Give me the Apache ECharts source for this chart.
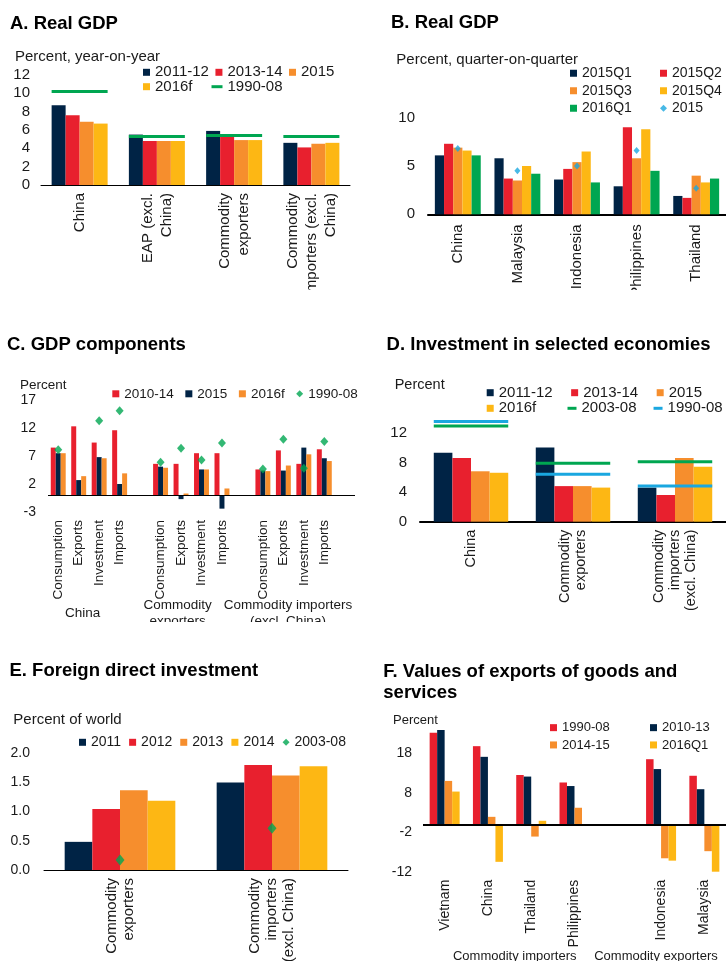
<!DOCTYPE html>
<html>
<head>
<meta charset="utf-8">
<script src="https://cdn.jsdelivr.net/npm/echarts/dist/echarts.min.js"></script>
<style>
html,body{margin:0;padding:0;background:#fff;width:726px;height:961px;overflow:hidden}
.p{position:absolute}
</style>
</head>
<body>
<div id="A" class="p" style="left:0;top:0;width:363px;height:290px"></div>
<div id="B" class="p" style="left:363px;top:0;width:363px;height:290px"></div>
<div id="C" class="p" style="left:0;top:322px;width:363px;height:300px"></div>
<div id="D" class="p" style="left:363px;top:322px;width:363px;height:300px"></div>
<div id="E" class="p" style="left:0;top:640px;width:363px;height:321px"></div>
<div id="F" class="p" style="left:363px;top:640px;width:363px;height:321px"></div>
<script>
// ---------------- DATA ----------------
// A. Real GDP (percent, year-on-year)
const aCategories = ['China', 'EAP (excl.\nChina)', 'Commodity\nexporters', 'Commodity\nimporters (excl.\nChina)'];
const a2011_12 = [8.7, 5.5, 5.9, 4.6];
const a2013_14 = [7.6, 4.8, 5.3, 4.1];
const a2015    = [6.9, 4.8, 4.9, 4.5];
const a2016f   = [6.7, 4.8, 4.9, 4.6];
const a1990_08 = [10.2, 5.3, 5.4, 5.3];

// B. Real GDP (percent, quarter-on-quarter)
const bCategories = ['China', 'Malaysia', 'Indonesia', 'Philippines', 'Thailand'];
const b2015Q1 = [6.1, 5.8, 3.6, 2.9, 1.9];
const b2015Q2 = [7.3, 3.7, 4.7, 9.0, 1.7];
const b2015Q3 = [6.9, 3.5, 5.4, 5.8, 4.0];
const b2015Q4 = [6.6, 5.0, 6.5, 8.8, 3.3];
const b2016Q1 = [6.1, 4.2, 3.3, 4.5, 3.7];
const b2015   = [6.8, 4.5, 5.0, 6.6, 2.7];

// C. GDP components (percent)
const cGroups = ['China', 'Commodity\nexporters', 'Commodity importers\n(excl. China)'];
const cComponents = ['Consumption', 'Exports', 'Investment', 'Imports'];
const c2010_14 = [8.5, 12.3, 9.4, 11.6,   5.6, 5.6, 7.5, 7.5,   4.6, 8.0, 5.6, 8.2];
const c2015    = [7.5, 2.7, 6.8, 2.0,     5.1, -0.7, 4.6, -2.4, 4.4, 4.4, 8.5, 6.6];
const c2016f   = [7.5, 3.4, 6.6, 3.9,     4.9, 0.3, 4.6, 1.2,   4.3, 5.3, 7.3, 6.1];
const c1990_08 = [8.1, 17.3, 13.3, 15.1,  5.9, 8.4, 6.3, 9.3,   4.7, 10.0, 4.8, 9.6];

// D. Investment in selected economies (percent)
const dCategories = ['China', 'Commodity\nexporters', 'Commodity\nimporters\n(excl. China)'];
const d2011_12 = [9.3, 10.0, 4.6];
const d2013_14 = [8.6, 4.8, 3.6];
const d2015    = [6.8, 4.8, 8.6];
const d2016f   = [6.6, 4.6, 7.4];
const d2003_08 = [12.9, 7.9, 8.1];
const d1990_08 = [13.5, 6.4, 4.8];

// E. Foreign direct investment (percent of world)
const eCategories = ['Commodity\nexporters', 'Commodity\nimporters\n(excl. China)'];
const e2011 = [0.48, 1.49];
const e2012 = [1.04, 1.79];
const e2013 = [1.36, 1.61];
const e2014 = [1.18, 1.77];
const e2003_08 = [0.17, 0.71];

// F. Values of exports of goods and services (percent)
const fCategories = ['Vietnam', 'China', 'Thailand', 'Philippines', '', 'Indonesia', 'Malaysia'];
const f1990_08 = [23.2, 19.8, 12.5, 10.6, null, 16.5, 12.3];
const f2010_13 = [23.9, 17.1, 12.1, 9.7, null, 14.0, 8.9];
const f2014_15 = [11.0, 1.9, -3.1, 4.2, null, -8.6, -6.8];
const f2016Q1  = [8.3, -9.5, 0.9, null, null, -9.2, -12.3];
const fGroupLabels = ['Commodity importers', 'Commodity exporters'];

// ---------------- STYLE ----------------
const FONT = '"Liberation Sans", Arial, Helvetica, sans-serif';
const TXT = '#1a1a1a';
const NAVY = '#002345', RED = '#E8202E', ORANGE = '#F68E2D', YELLOW = '#FDB714', GREEN = '#00A651', CYAN = '#1AA7E0';

function titleOpt(text, left, top, lh) {
  return { text, left, top, padding: 0,
    textStyle: { fontFamily: FONT, fontSize: 18.5, fontWeight: 'bold', color: '#000', lineHeight: lh || 20 } };
}
function txt(text, x, y, size, align, lh) {
  return { type: 'text', x, y, silent: true,
    style: { text, fill: TXT, fontSize: size, fontFamily: FONT, align: align || 'left', verticalAlign: 'middle', lineHeight: lh || size } };
}
function lg(names, left, top, o) {
  return { data: names, left, top, padding: 0, orient: o.orient || 'horizontal',
    itemWidth: o.w || 7, itemHeight: o.h || 7, itemGap: o.gap || 0, icon: o.icon || 'rect',
    selectedMode: false,
    textStyle: { fontFamily: FONT, fontSize: o.size, color: TXT, lineHeight: o.lh || o.size } };
}
function bar(name, data, color, gap, extra) {
  return Object.assign({ type: 'bar', name, data, barGap: 0, barCategoryGap: gap,
    itemStyle: { color }, emphasis: { disabled: true }, silent: true }, extra || {});
}
function groupLine(name, values, color, frac, width) {
  return { type: 'custom', name, itemStyle: { color }, silent: true, z: 5,
    data: values.map((v, i) => [i, v]), encode: { x: 0, y: 1 },
    renderItem: function (params, api) {
      const p = api.coord([api.value(0), api.value(1)]);
      const w = api.size([1, 0])[0] * frac;
      return { type: 'line', shape: { x1: p[0] - w / 2, y1: p[1], x2: p[0] + w / 2, y2: p[1] },
        style: { stroke: color, lineWidth: width } };
    } };
}
function marks(name, values, color, size) {
  return { type: 'scatter', name, symbol: 'diamond', symbolSize: size, itemStyle: { color }, z: 6, silent: true,
    data: values.map((v, i) => [i, v]) };
}
function catAxis(cats, o) {
  return { type: 'category', data: cats,
    axisLine: { show: o.line !== false, onZero: false, lineStyle: { color: '#000', width: o.lw || 1 } },
    axisTick: { show: false }, splitLine: { show: false },
    axisLabel: { interval: 0, rotate: 90, margin: o.margin, fontSize: o.size, lineHeight: o.lh || o.size + 2,
      color: TXT, fontFamily: FONT, formatter: o.fmt } };
}
function valAxis(min, max, interval, o) {
  return { type: 'value', min, max, interval,
    axisLine: { show: false }, axisTick: { show: false }, splitLine: { show: false },
    axisLabel: { fontSize: o.size, color: TXT, fontFamily: FONT, margin: o.margin,
      showMaxLabel: o.showMax !== false, formatter: o.fmt } };
}
function grid(left, right, top, bottom) {
  return { left, right, top, bottom, containLabel: false, outerBoundsMode: 'none' };
}
const zeroLine = (w) => ({ silent: true, symbol: 'none', label: { show: false },
  lineStyle: { color: '#000', width: w, type: 'solid' }, emphasis: { disabled: true }, data: [{ yAxis: 0 }] });

function init(id, option) {
  const ch = echarts.init(document.getElementById(id));
  option.animation = false;
  option.textStyle = { fontFamily: FONT, color: TXT };
  ch.setOption(option);
}

// ---------------- A ----------------
(function () {
  const gap = '27.5%';
  init('A', {
    title: titleOpt('A. Real GDP', 10, 14),
    graphic: [txt('Percent, year-on-year', 15, 57, 15)],
    legend: [
      lg(['2011-12', '2013-14', '2015'], 143, 64.8, { size: 15, gap: 6.5 }),
      lg(['2016f'], 143, 79.2, { size: 15 }),
      lg(['1990-08'], 211.5, 79.2, { size: 15, w: 11, h: 3 })
    ],
    grid: grid(41, 13, 75, 105),
    xAxis: catAxis(aCategories, { margin: 8, size: 15, lh: 19, lw: 1 }),
    yAxis: valAxis(0, 12, 2, { size: 15, margin: 11 }),
    series: [
      bar('2011-12', a2011_12, NAVY, gap), bar('2013-14', a2013_14, RED, gap),
      bar('2015', a2015, ORANGE, gap), bar('2016f', a2016f, YELLOW, gap),
      groupLine('1990-08', a1990_08, GREEN, 0.725, 3)
    ]
  });
})();

// ---------------- B ----------------
(function () {
  const gap = '23%';
  init('B', {
    title: titleOpt('B. Real GDP', 28, 13),
    graphic: [txt('Percent, quarter-on-quarter', 33.3, 59.5, 15)],
    legend: [
      lg(['2015Q1', '2015Q3', '2016Q1'], 207, 64.5, { size: 14, lh: 17.5, orient: 'vertical' }),
      lg(['2015Q2', '2015Q4', { name: '2015', icon: 'diamond' }], 297, 64.5, { size: 14, lh: 17.5, orient: 'vertical' })
    ],
    grid: grid(65, 0, 117.7, 75.7),
    xAxis: catAxis(bCategories, { margin: 10, size: 15, lw: 2 }),
    yAxis: valAxis(0, 10, 5, { size: 15, margin: 13 }),
    series: [
      bar('2015Q1', b2015Q1, NAVY, gap), bar('2015Q2', b2015Q2, RED, gap),
      bar('2015Q3', b2015Q3, ORANGE, gap), bar('2015Q4', b2015Q4, YELLOW, gap),
      bar('2016Q1', b2016Q1, GREEN, gap),
      marks('2015', b2015, CYAN, [6, 7])
    ]
  });
})();

// ---------------- C ----------------
(function () {
  const gap = '27%';
  // build 15 slots: 4 components per group followed by a blank slot
  const cats = [], idx = [];
  cGroups.forEach((g, gi) => {
    cComponents.forEach((c, ci) => { cats.push(gi + '|' + c); idx.push(gi * 4 + ci); });
    cats.push(gi + '|'); idx.push(-1);
  });
  const spread = (arr) => idx.map(k => (k < 0 ? null : arr[k]));
  const dm = spread(c1990_08);
  init('C', {
    title: titleOpt('C. GDP components', 7, 13),
    graphic: [
      txt('Percent', 20, 63, 13.5),
      txt(cGroups[0], 82.7, 291, 13.5, 'center', 16),
      txt(cGroups[1], 177.7, 291, 13.5, 'center', 16),
      txt(cGroups[2], 288, 291, 13.5, 'center', 16)
    ],
    legend: [
      lg(['2010-14', '2015', '2016f', { name: '1990-08', icon: 'diamond' }], 112.3, 64.8, { size: 13.5, gap: 11.5, w: 7, h: 7 })
    ],
    grid: grid(48, 8, 78, 110),
    xAxis: catAxis(cats, { margin: 8, size: 13.5, line: false, fmt: v => v.split('|')[1] }),
    yAxis: valAxis(-3, 17, 5, { size: 14, margin: 12 }),
    series: [
      bar('2010-14', spread(c2010_14), RED, gap, { markLine: zeroLine(1) }),
      bar('2015', spread(c2015), NAVY, gap),
      bar('2016f', spread(c2016f), ORANGE, gap),
      { type: 'scatter', name: '1990-08', symbol: 'diamond', symbolSize: [8, 9], itemStyle: { color: GREEN }, z: 6, silent: true,
        data: dm.map((v, i) => [i, v]).filter(d => d[1] != null) }
    ]
  });
})();

// ---------------- D ----------------
(function () {
  const gap = '27%';
  init('D', {
    title: titleOpt('D. Investment in selected economies', 23.6, 13),
    graphic: [txt('Percent', 31.7, 63, 14.5)],
    legend: [
      lg(['2011-12', '2013-14', '2015'], 123.7, 63.2, { size: 15, gap: 18.5 }),
      lg(['2016f'], 123.7, 78.8, { size: 15 }),
      lg(['2003-08', '1990-08'], 204.5, 78.8, { size: 15, w: 9, h: 3, gap: 17 })
    ],
    grid: grid(57, 0, 95.9, 100.3),
    xAxis: catAxis(dCategories, { margin: 8, size: 14.5, lh: 16, lw: 2 }),
    yAxis: valAxis(0, 14, 4, { size: 15, margin: 13, showMax: false }),
    series: [
      bar('2011-12', d2011_12, NAVY, gap), bar('2013-14', d2013_14, RED, gap),
      bar('2015', d2015, ORANGE, gap), bar('2016f', d2016f, YELLOW, gap),
      groupLine('2003-08', d2003_08, GREEN, 0.73, 3),
      groupLine('1990-08', d1990_08, CYAN, 0.73, 3)
    ]
  });
})();

// ---------------- E ----------------
(function () {
  const gap = '27.2%';
  init('E', {
    title: titleOpt('E. Foreign direct investment', 9.5, 20.75),
    graphic: [txt('Percent of world', 13.3, 80, 15)],
    legend: [
      lg(['2011', '2012', '2013', '2014', { name: '2003-08', icon: 'diamond' }], 79, 95.3, { size: 14, gap: 8 })
    ],
    grid: grid(44, 15, 112.7, 91),
    xAxis: catAxis(eCategories, { margin: 8, size: 15, lh: 17, lw: 1 }),
    yAxis: valAxis(0, 2, 0.5, { size: 14, margin: 14, fmt: v => v.toFixed(1) }),
    series: [
      bar('2011', e2011, NAVY, gap), bar('2012', e2012, RED, gap),
      bar('2013', e2013, ORANGE, gap), bar('2014', e2014, YELLOW, gap),
      marks('2003-08', e2003_08, GREEN, [9, 11])
    ]
  });
})();

// ---------------- F ----------------
(function () {
  const gap = '30.7%';
  init('F', {
    title: titleOpt('F. Values of exports of goods and\nservices', 20.3, 20.65, 21.7),
    graphic: [
      txt('Percent', 30, 80, 13),
      txt(fGroupLabels[0], 151.7, 316.7, 13, 'center'),
      txt(fGroupLabels[1], 293, 316.7, 13, 'center')
    ],
    legend: [
      lg(['1990-08', '2014-15'], 187, 79, { size: 13, lh: 17.3, orient: 'vertical' }),
      lg(['2010-13', '2016Q1'], 287, 79, { size: 13, lh: 17.3, orient: 'vertical' })
    ],
    grid: grid(60, 0, 73.8, 89.3),
    xAxis: catAxis(fCategories, { margin: 8, size: 14, line: false }),
    yAxis: valAxis(-12, 28, 10, { size: 14, margin: 11, showMax: false }),
    series: [
      bar('1990-08', f1990_08, RED, gap, { markLine: zeroLine(2) }),
      bar('2010-13', f2010_13, NAVY, gap),
      bar('2014-15', f2014_15, ORANGE, gap),
      bar('2016Q1', f2016Q1, YELLOW, gap)
    ]
  });
})();
</script>
</body>
</html>
